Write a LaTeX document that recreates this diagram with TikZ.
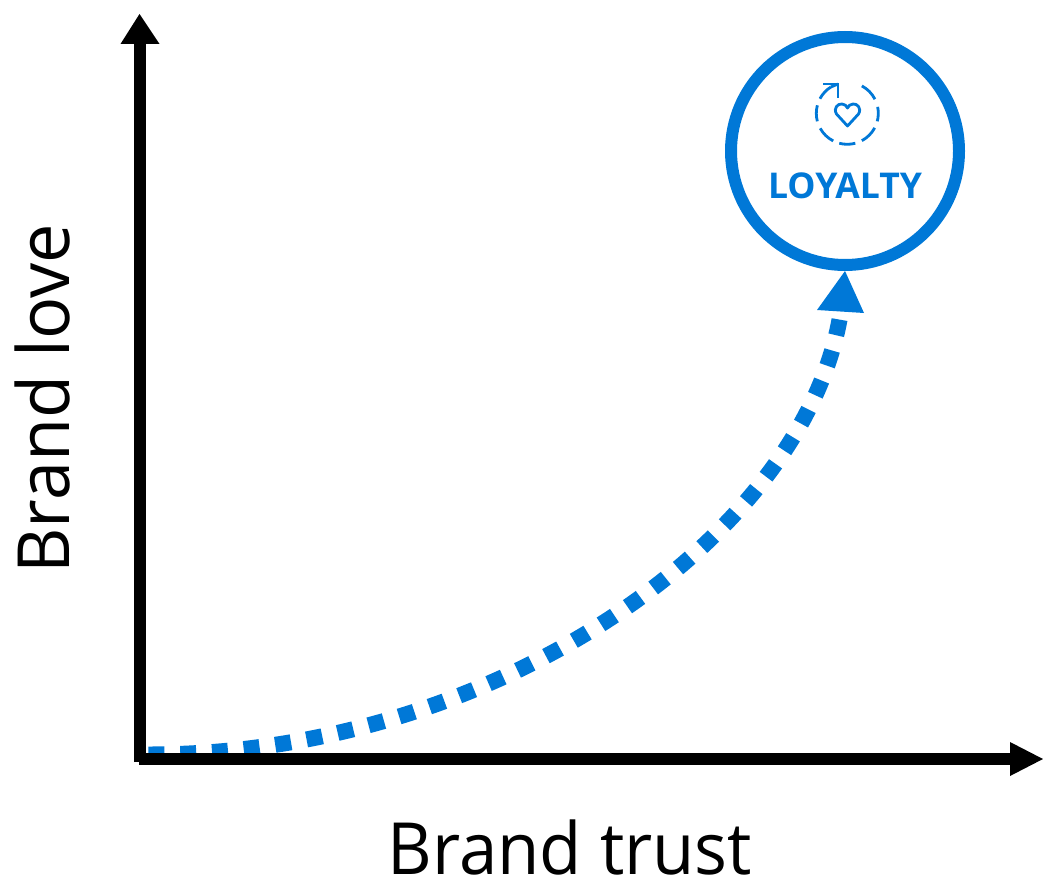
\documentclass[tikz,border=0pt]{standalone}
\usepackage{fontspec}
\setmainfont{Open Sans}
\definecolor{loyalblue}{HTML}{0078D7}
\tikzset{
  axisline/.style={line width=12pt,black},
  axishead/.style={fill=black,draw=none},
  bluehead/.style={fill=loyalblue,draw=none},
  iconline/.style={line width=2.8pt,loyalblue},
  axislabel/.style={inner sep=0pt,font=\fontsize{72}{72}\selectfont,black},
}
\begin{document}
\begin{tikzpicture}[x=1pt,y=-1pt]
\useasboundingbox (0,0) rectangle (1043,880);
\coordinate (origin) at (139,759);
\coordinate (ytip) at (139.5,14);
\coordinate (xtip) at (1043,759);
\coordinate (start) at (148.5,754.5);
\coordinate (end) at (842,304);
\coordinate (hc) at (847.3,113.3);
% curve
\draw[loyalblue,line width=16pt,dash pattern=on 16pt off 15.8pt] (start) .. controls (495,754.5) and (812,535) .. (end);
% axes
\draw[axisline,line cap=butt] (139.5,762) -- (139.5,40);
\fill[axishead] (ytip) -- (159.5,44) -- (120.5,44) -- cycle;
\draw[axisline,line cap=butt] (139,759) -- (1014,759);
\fill[axishead] (xtip) -- (1010,776) -- (1010,742) -- cycle;
% loyalty circle
\node[circle,draw=loyalblue,line width=12pt,minimum size=228pt,inner sep=0pt,fill=white] (loyal) at (845,151) {};
\node[inner sep=0pt,text=loyalblue,font=\fontsize{35.5}{35.5}\selectfont\bfseries] (loyaltext) at (845,186) {LOYALTY};
\fill[bluehead] (loyal.south) -- (864,313) -- (817,310) -- cycle;
% icon
\draw[iconline] (hc) ++(-62:31) arc[start angle=-62,end angle=-27,radius=31];
\draw[iconline] (hc) ++(-12:31) arc[start angle=-12,end angle=15,radius=31];
\draw[iconline] (hc) ++(28:31) arc[start angle=28,end angle=62,radius=31];
\draw[iconline] (hc) ++(75:31) arc[start angle=75,end angle=105,radius=31];
\draw[iconline] (hc) ++(117:31) arc[start angle=117,end angle=151,radius=31];
\draw[iconline] (hc) ++(165:31) arc[start angle=165,end angle=195,radius=31];
\draw[iconline] (hc) ++(208:31) arc[start angle=208,end angle=238,radius=31];
\draw[iconline] (hc) ++(238:31) -- (838,84);
\draw[iconline] (823,84) -- (838,84) -- (838,98);
\draw[iconline,line join=round] (847.5,126) -- (836.5,114) .. controls (833,108) and (838,103.5) .. (842,104) .. controls (845,104) and (846.5,106) .. (847.5,108) .. controls (848.5,106) and (850,104) .. (853,104) .. controls (857,103.5) and (862,108) .. (858.5,114) -- cycle;
% labels
\node[axislabel] (xlabel) at (570,847) {\scalebox{.957}[1]{Brand trust}};
\node[axislabel,rotate=90] (ylabel) at (42,399) {\scalebox{.974}[1]{Brand love}};
\end{tikzpicture}
\end{document}
